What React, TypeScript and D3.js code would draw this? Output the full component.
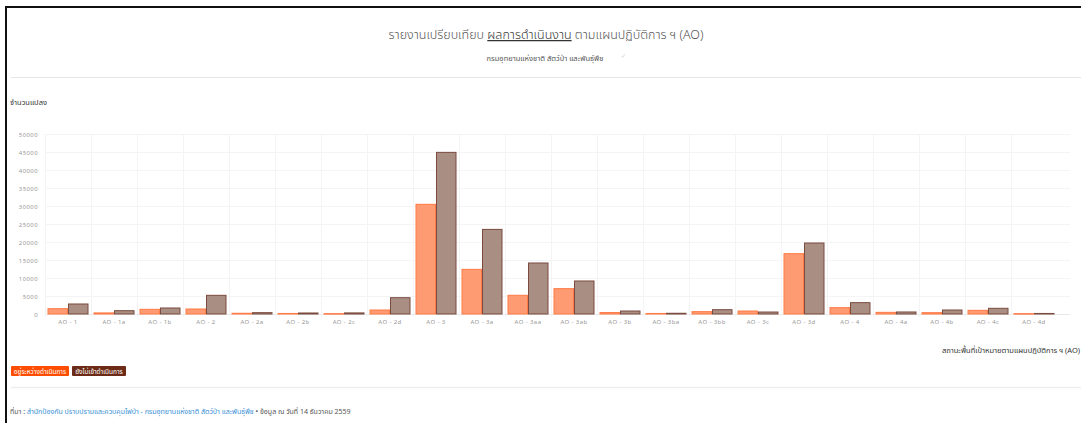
import React from "react";
import * as d3 from "d3";

const categories = ["AO - 1", "AO - 1a", "AO - 1b", "AO - 2", "AO - 2a", "AO - 2b", "AO - 2c", "AO - 2d", "AO - 3", "AO - 3a", "AO - 3aa", "AO - 3ab", "AO - 3b", "AO - 3ba", "AO - 3bb", "AO - 3c", "AO - 3d", "AO - 4", "AO - 4a", "AO - 4b", "AO - 4c", "AO - 4d"];
const inProgress = [1480, 300, 1300, 1390, 200, 150, 100, 1110, 30470, 12400, 5200, 7040, 400, 150, 650, 830, 16760, 1760, 460, 370, 1020, 100];
const notStarted = [2780, 920, 1670, 5190, 370, 280, 300, 4530, 44900, 23500, 14170, 9170, 830, 200, 1200, 550, 19720, 3150, 560, 1110, 1580, 150];
const yTicks = [0, 5000, 10000, 15000, 20000, 25000, 30000, 35000, 40000, 45000, 50000];
const seriesNames = ["อยู่ระหว่างดำเนินการ", "ยังไม่เข้าดำเนินการ"];

const FONT = "'Noto Sans Thai', 'Noto Sans', Tahoma, sans-serif";

export default function App() {
  const W = 1081, H = 423;
  const left = 45, right = 1057, top = 134, bottom = 314;
  const x = d3.scaleBand<string>().domain(categories).range([left, right]).padding(0);
  const bw = x.bandwidth();
  const inner = d3.scaleBand<string>().domain(["a", "b"]).range([2.5, bw - 2.5]).padding(0);
  const y = d3.scaleLinear().domain([0, 50000]).range([bottom, top]);
  const series = [
    { key: "a", values: inProgress, fill: "#fe9b72", stroke: "#ff7a45" },
    { key: "b", values: notStarted, fill: "#a98e84", stroke: "#7a4b3e" },
  ];
  return (
    <svg width={W} height={H} style={{ position: "absolute", left: 0, top: 0, background: "#fff" }} fontFamily={FONT}>
      <rect x={0} y={0} width={W} height={H} fill="#fff" />
      {/* borders */}
      <rect x={5} y={6} width={W - 5} height={2} fill="#111" />
      <rect x={5} y={6} width={2} height={H - 6} fill="#111" />
      <line x1={11} x2={W} y1={77.5} y2={77.5} stroke="#e6e6e6" />
      <line x1={11} x2={W} y1={387.5} y2={387.5} stroke="#eeeeee" strokeWidth={1.5} />

      {/* title */}
      <text x={546} y={39} textAnchor="middle" fontSize={12.5} fill="#555" fontWeight={300}>
        <tspan>รายงานเปรียบเทียบ </tspan>
        <tspan textDecoration="underline" fill="#333">ผลการดำเนินงาน</tspan>
        <tspan> ตามแผนปฏิบัติการ ฯ (AO)</tspan>
      </text>
      <text x={545} y={61} textAnchor="middle" fontSize={7.5} fill="#555">กรมอุทยานแห่งชาติ สัตว์ป่า และพันธุ์พืช</text>
      <text x={621} y={58} fontSize={6} fill="#ccc">✓</text>

      <text x={10} y={105} fontSize={7.5} fill="#333">จำนวนแปลง</text>

      {/* horizontal grid */}
      {yTicks.map((t) => (
        <g key={t}>
          <line x1={left} x2={1070} y1={y(t) + 0.5} y2={y(t) + 0.5} stroke={t === 0 ? "#e8e8e8" : "#f4f4f4"} />
          <text x={38} y={y(t) + 2.5} textAnchor="end" fontSize={6} letterSpacing={0.4} fill="#999">{t}</text>
        </g>
      ))}
      {/* vertical grid */}
      {categories.map((c) => (
        <line key={c} x1={x(c)! + 0.5} x2={x(c)! + 0.5} y1={top} y2={bottom + 3} stroke="#f4f4f4" />
      ))}
      {/* bars */}
      {series.map((s) => (
        <g key={s.key}>
          {categories.map((c, i) => {
            const v = s.values[i];
            const bx = x(c)! + inner(s.key)!;
            const by = y(v);
            return (
              <rect key={c} x={bx + 0.5} y={by} width={inner.bandwidth() - 1} height={Math.max(0.5, bottom - by)}
                fill={s.fill} stroke={s.stroke} strokeWidth={1} />
            );
          })}
        </g>
      ))}
      {/* x labels */}
      {categories.map((c) => (
        <text key={c} x={x(c)! + bw / 2} y={324} textAnchor="middle" fontSize={6} letterSpacing={0.4} fill="#999">{c}</text>
      ))}
      <text x={1080} y={353} textAnchor="end" fontSize={7.5} fill="#333">สถานะพื้นที่เป้าหมายตามแผนปฏิบัติการ ฯ (AO)</text>

      {/* legend */}
      <rect x={11} y={366} width={58} height={10} fill="#ff4d00" rx={1} />
      <text x={40} y={373.5} textAnchor="middle" fontSize={6.5} fill="#fff">{seriesNames[0]}</text>
      <rect x={72} y={366} width={54} height={10} fill="#6b2b17" rx={1} />
      <text x={99} y={373.5} textAnchor="middle" fontSize={6.5} fill="#fff">{seriesNames[1]}</text>

      {/* footer */}
      <text x={10} y={414} fontSize={7} fill="#555">
        <tspan>ที่มา : </tspan>
        <tspan fill="#3a8fd6">สำนักป้องกัน ปราบปรามและควบคุมไฟป่า - กรมอุทยานแห่งชาติ สัตว์ป่า และพันธุ์พืช</tspan>
        <tspan> • ข้อมูล ณ วันที่ 14 ธันวาคม 2559</tspan>
      </text>
    </svg>
  );
}
